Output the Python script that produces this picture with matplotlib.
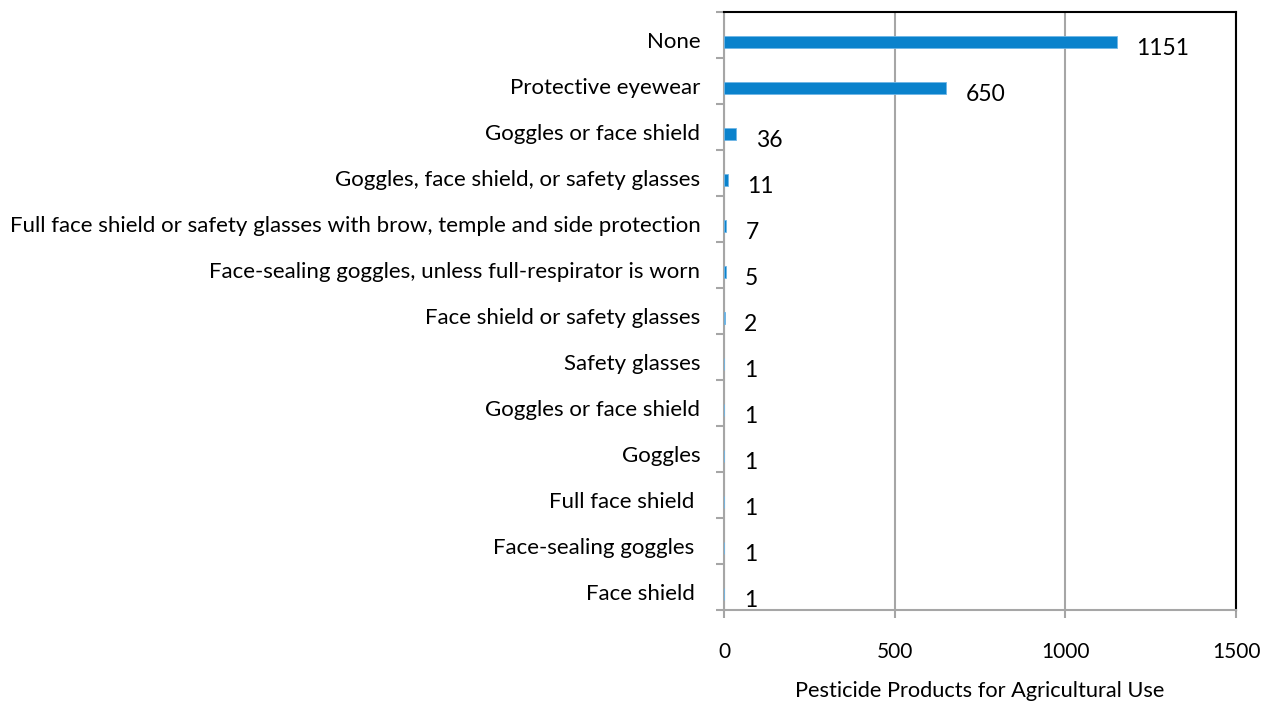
import numpy as np
import matplotlib
matplotlib.use('agg')
import matplotlib.pyplot as plt
from matplotlib.ticker import FixedLocator

labels = ['None', 'Protective eyewear', 'Goggles or face shield',
          'Goggles, face shield, or safety glasses',
          'Full face shield or safety glasses with brow, temple and side protection',
          'Face-sealing goggles, unless full-respirator is worn',
          'Face shield or safety glasses', 'Safety glasses', 'Goggles or face shield',
          'Goggles', 'Full face shield ', 'Face-sealing goggles ', 'Face shield ']
counts = [1151, 650, 36, 11, 7, 5, 2, 1, 1, 1, 1, 1, 1]
xticks = [0, 500, 1000, 1500]

plt.rcParams['font.family'] = ['Lato', 'DejaVu Sans']
grey = '#a6a6a6'

fig = plt.figure(figsize=(12.65, 7.08), dpi=100)
ax = fig.add_axes([0.5723, 0.1384, 0.4048, 0.8447])

y = np.arange(len(labels))
ax.barh(y + 0.15, counts, height=0.27, color='#0a82cc', edgecolor='#6fb6e6', linewidth=0.6, zorder=3)
for yi, v in zip(y, counts):
    ax.annotate(str(v), (v, yi + 0.3), xytext=(14, 0), textcoords='offset points',
                ha='left', va='center', fontsize=16.5, color='black')

ax.set_ylim(len(labels) - 0.5, -0.5)
ax.set_xlim(0, 1500)
ax.set_xticks(xticks)
ax.set_xticklabels([str(t) for t in xticks], fontsize=15)
ax.set_yticks(y + 0.1)
ax.set_yticklabels(labels, fontsize=16)
ax.yaxis.set_minor_locator(FixedLocator(np.arange(-0.5, len(labels), 1)))
ax.tick_params(axis='y', which='major', length=0, pad=17)
ax.tick_params(axis='y', which='minor', length=6, width=1.5, color=grey)
ax.tick_params(axis='x', length=6, width=1.5, color=grey, pad=17)
ax.grid(axis='x', color=grey, linewidth=1.5, zorder=0)
ax.set_axisbelow(True)

ax.spines['left'].set_color(grey)
ax.spines['bottom'].set_color(grey)
ax.spines['left'].set_linewidth(1.5)
ax.spines['bottom'].set_linewidth(1.5)
ax.spines['top'].set_linewidth(1.5)
ax.spines['right'].set_linewidth(1.5)
ax.set_xlabel('Pesticide Products for Agricultural Use', fontsize=15.7, labelpad=14)

fig.savefig('out.png', dpi=100)
